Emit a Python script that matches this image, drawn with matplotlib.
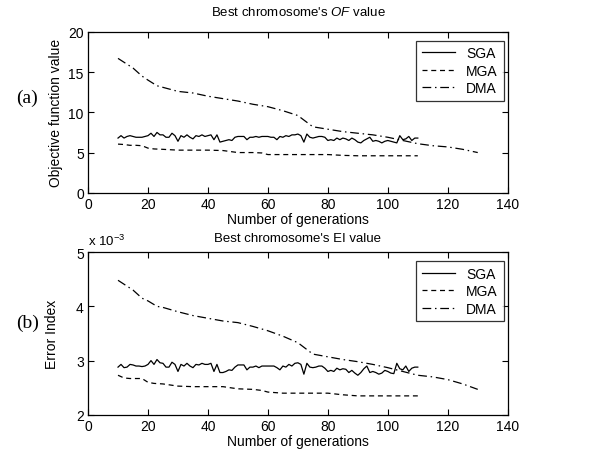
import numpy as np
import matplotlib
matplotlib.use("Agg")
import matplotlib.pyplot as plt

plt.rcParams['font.family'] = ['Liberation Sans', 'DejaVu Sans']
plt.rcParams['mathtext.fontset'] = 'custom'
plt.rcParams['mathtext.it'] = 'Liberation Sans:italic'
plt.rcParams['mathtext.rm'] = 'Liberation Sans'

# ---------------- data ----------------
sga_gen = list(range(10, 111))
sga_of = [6.8, 7.1, 6.8, 7.0, 7.1, 7.0, 6.9, 6.9, 6.9, 7.0, 7.1, 7.4, 7.0, 7.5, 7.2, 7.2, 6.9, 6.9, 7.4, 7.1,
          6.4, 7.1, 6.9, 7.2, 6.9, 6.7, 7.1, 7.0, 7.2, 7.0, 7.1, 7.2, 6.6, 7.2, 6.3, 6.4, 6.5, 6.6, 6.5, 6.9,
          7.0, 7.0, 7.0, 6.6, 6.9, 6.9, 7.0, 6.9, 7.0, 7.0, 7.0, 6.9, 6.9, 6.6, 7.0, 6.9, 7.1, 7.0, 7.2, 7.2,
          7.3, 7.1, 6.3, 7.3, 6.9, 6.8, 6.9, 7.0, 7.0, 6.9, 6.5, 6.6, 6.5, 6.8, 6.6, 6.8, 6.7, 6.5, 6.8, 6.6,
          6.3, 6.2, 6.5, 6.7, 6.9, 6.4, 6.5, 6.4, 6.2, 6.4, 6.5, 6.4, 6.3, 6.2, 7.1, 6.6, 6.7, 7.0, 6.5, 6.8,
          6.8]
sga_ei = [2.88, 2.93, 2.87, 2.88, 2.93, 2.92, 2.90, 2.90, 2.89, 2.90, 2.93, 3.00, 2.93, 3.02, 2.96, 2.95, 2.88, 2.88, 2.97, 2.93,
          2.80, 2.93, 2.90, 2.95, 2.90, 2.87, 2.93, 2.92, 2.95, 2.93, 2.93, 2.95, 2.80, 2.93, 2.78, 2.78, 2.80, 2.83, 2.82, 2.88,
          2.92, 2.92, 2.92, 2.83, 2.88, 2.88, 2.90, 2.87, 2.90, 2.90, 2.90, 2.90, 2.90, 2.87, 2.83, 2.90, 2.88, 2.93, 2.90, 2.95,
          2.96, 2.93, 2.75, 2.95, 2.88, 2.87, 2.88, 2.90, 2.90, 2.86, 2.80, 2.82, 2.80, 2.86, 2.83, 2.85, 2.84, 2.78, 2.82, 2.77,
          2.73, 2.78, 2.85, 2.90, 2.78, 2.80, 2.78, 2.75, 2.77, 2.82, 2.80, 2.77, 2.76, 2.95, 2.85, 2.83, 2.90, 2.80, 2.86, 2.88,
          2.88]

mga_gen = [10, 12, 14, 16, 18, 20, 22, 25, 30, 35, 40, 45, 50, 55, 58, 60, 65, 70, 75, 80, 85, 90, 95, 100, 105, 110]
mga_of = [6.05, 6.0, 5.9, 5.9, 5.85, 5.55, 5.45, 5.4, 5.3, 5.3, 5.3, 5.25, 5.0, 5.0, 4.95, 4.75, 4.75, 4.75, 4.75, 4.75,
          4.65, 4.6, 4.6, 4.6, 4.6, 4.6]
mga_ei = [2.73, 2.68, 2.67, 2.67, 2.67, 2.60, 2.58, 2.57, 2.53, 2.52, 2.52, 2.52, 2.48, 2.47, 2.45, 2.42, 2.40, 2.40, 2.40, 2.40,
          2.37, 2.35, 2.35, 2.35, 2.35, 2.35]

dma_gen = [10, 15, 18, 20, 23, 25, 30, 35, 40, 45, 50, 55, 60, 65, 70, 75, 80, 85, 90, 95, 100, 105, 110, 115, 120, 125, 130]
dma_of = [16.7, 15.5, 14.5, 14.0, 13.3, 13.1, 12.6, 12.4, 12.0, 11.7, 11.4, 11.0, 10.7, 10.2, 9.6, 8.2, 7.9, 7.6, 7.4, 7.2,
          6.9, 6.5, 6.1, 5.85, 5.7, 5.4, 5.0]
dma_ei = [4.48, 4.30, 4.15, 4.10, 4.00, 3.98, 3.90, 3.83, 3.78, 3.73, 3.70, 3.63, 3.55, 3.45, 3.33, 3.12, 3.07, 3.02, 2.98, 2.93,
          2.87, 2.80, 2.73, 2.70, 2.65, 2.57, 2.47]

series_names = ['SGA', 'MGA', 'DMA']
x_ticks = [0, 20, 40, 60, 80, 100, 120, 140]

# ---------------- figure ----------------
fig = plt.figure(figsize=(6.03, 4.56), dpi=100)
ax1 = fig.add_axes([0.146, 0.575, 0.696, 0.353])
ax2 = fig.add_axes([0.146, 0.088, 0.696, 0.357])

lw = 0.9
styles = dict(color='black', linewidth=lw)

def draw(ax, ys, yd, ym):
    ax.plot(sga_gen, ys, linestyle='-', label=series_names[0], **styles)
    ax.plot(mga_gen, ym, linestyle=(0, (4, 3)), label=series_names[1], **styles)
    ax.plot(dma_gen, yd, linestyle=(0, (7, 3, 1.2, 3)), label=series_names[2], **styles)
    ax.set_xlim(0, 140)
    ax.set_xticks(x_ticks)
    ax.tick_params(direction='in', top=True, right=True, labelsize=10, length=4, width=0.8, pad=3)
    for s in ax.spines.values():
        s.set_linewidth(0.9)
    leg = ax.legend(loc='upper right', bbox_to_anchor=(0.99, 0.945), fontsize=10, frameon=True,
                    fancybox=False, edgecolor='black', handlelength=2.4, borderpad=0.4,
                    labelspacing=0.25, handletextpad=0.8, borderaxespad=0)
    leg.get_frame().set_linewidth(0.9)
    ax.set_xlabel('Number of generations', fontsize=10, labelpad=1)

draw(ax1, sga_of, dma_of, mga_of)
ax1.set_ylim(0, 20)
ax1.set_yticks([0, 5, 10, 15, 20])
ax1.set_ylabel('Objective function value', fontsize=10, labelpad=4)
ax1.set_title("Best chromosome's $\\mathit{OF}$ value", fontsize=9.5, pad=12)

draw(ax2, sga_ei, dma_ei, mga_ei)
ax2.set_ylim(2, 5)
ax2.set_yticks([2, 3, 4, 5])
ax2.set_ylabel('Error Index', fontsize=10, labelpad=12)
ax2.set_title("Best chromosome's EI value", fontsize=9.5, pad=8)
ax2.text(0.0, 1.025, 'x 10$^{-3}$', transform=ax2.transAxes, fontsize=9.5, ha='left', va='bottom')

fig.text(0.045, 0.785, '(a)', fontsize=14, family='Liberation Serif', ha='center', va='center')
fig.text(0.045, 0.29, '(b)', fontsize=14, family='Liberation Serif', ha='center', va='center')

fig.savefig('out.png', dpi=100)
